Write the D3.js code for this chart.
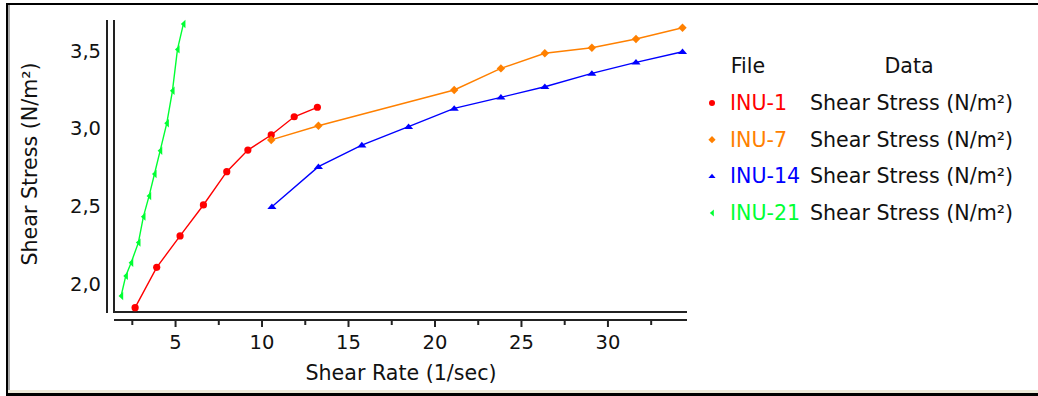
<!DOCTYPE html>
<html><head><meta charset="utf-8">
<script src="https://cdn.jsdelivr.net/npm/d3@7"></script>
<style>
html,body{margin:0;padding:0;background:#fff;}
text{font-family:"DejaVu Sans",sans-serif;fill:#111;}
</style></head>
<body>
<svg id="c" width="1038" height="396"></svg>
<script>
// ---- data ----
const seriesNames = ["INU-1", "INU-7", "INU-14", "INU-21"];
const dataLabel = "Shear Stress (N/m²)";
const inu1X = [2.69, 3.94, 5.29, 6.64, 7.99, 9.21, 10.56, 11.89, 13.23];
const inu1Y = [1.844, 2.103, 2.305, 2.504, 2.718, 2.857, 2.954, 3.071, 3.132];
const inu7X = [10.56, 13.29, 21.14, 23.84, 26.38, 29.10, 31.65, 34.34];
const inu7Y = [2.922, 3.013, 3.243, 3.382, 3.479, 3.515, 3.571, 3.643];
const inu14X = [10.60, 13.29, 15.80, 18.50, 21.14, 23.84, 26.38, 29.10, 31.65, 34.34];
const inu14Y = [2.493, 2.750, 2.889, 3.007, 3.125, 3.196, 3.264, 3.350, 3.421, 3.489];
const inu21X = [1.88, 2.15, 2.46, 2.88, 3.17, 3.50, 3.81, 4.14, 4.52, 4.85, 5.14, 5.48];
const inu21Y = [1.919, 2.048, 2.133, 2.262, 2.429, 2.562, 2.703, 2.853, 3.029, 3.238, 3.504, 3.667];
const xMajorTicks = [5, 10, 15, 20, 25, 30];
const xMinorTicks = [2.5, 7.5, 12.5, 17.5, 22.5, 27.5, 32.5];
const yTicks = [2.0, 2.5, 3.0, 3.5];
const xTitle = "Shear Rate (1/sec)";
const yTitle = "Shear Stress (N/m²)";

const colors = ["#ff0000", "#ff8000", "#0000ff", "#00ff33"];
const symbols = ["circle", "diamond", "triUp", "triLeft"];
const series = [
  {name: seriesNames[0], xs: inu1X, ys: inu1Y},
  {name: seriesNames[1], xs: inu7X, ys: inu7Y},
  {name: seriesNames[2], xs: inu14X, ys: inu14Y},
  {name: seriesNames[3], xs: inu21X, ys: inu21Y}
];

const svg = d3.select("#c");

// frame
svg.append("rect").attr("x",0).attr("y",0).attr("width",1038).attr("height",396).attr("fill","#fff");
svg.append("rect").attr("x",8).attr("y",5).attr("width",2).attr("height",387).attr("fill","#a8a8a8");
svg.append("rect").attr("x",8).attr("y",390).attr("width",1030).attr("height",3).attr("fill","#ece9d8");
svg.append("rect").attr("x",6).attr("y",3).attr("width",1032).attr("height",2).attr("fill","#000");
svg.append("rect").attr("x",6).attr("y",3).attr("width",2).attr("height",393).attr("fill","#000");
svg.append("rect").attr("x",6).attr("y",393).attr("width",1032).attr("height",3).attr("fill","#000");

const x = d3.scaleLinear().domain([1.47, 34.6]).range([114, 687]);
const y = d3.scaleLinear().domain([1.816, 3.693]).range([312, 20]);
const loc = d3.formatLocale({decimal: ",", thousands: ".", grouping: [3], currency: ["", ""]});
const fy = loc.format(".1f");

// axes lines (double)
const axisCol = "#222";
svg.append("line").attr("x1",107).attr("x2",107).attr("y1",20).attr("y2",313).attr("stroke",axisCol).attr("stroke-width",2);
svg.append("line").attr("x1",114).attr("x2",114).attr("y1",20).attr("y2",313).attr("stroke",axisCol).attr("stroke-width",2);
svg.append("line").attr("x1",113).attr("x2",687).attr("y1",312).attr("y2",312).attr("stroke",axisCol).attr("stroke-width",2);

// x axis with ticks
const gx = svg.append("g").attr("transform","translate(0,320)");
gx.call(d3.axisBottom(x).tickValues(xMajorTicks).tickSize(7).tickSizeOuter(0).tickPadding(8).tickFormat(d3.format("d")));
gx.select(".domain").attr("stroke",axisCol).attr("stroke-width",2).attr("d","M114,0H687");
gx.selectAll(".tick line").attr("stroke",axisCol).attr("stroke-width",2);
gx.selectAll(".tick text").attr("font-family","Liberation Sans, sans-serif").attr("font-size",19.5).attr("fill","#111").attr("y",15).attr("dy","0.71em");
const gxm = svg.append("g").attr("transform","translate(0,320)");
gxm.call(d3.axisBottom(x).tickValues(xMinorTicks).tickSize(5).tickFormat(""));
gxm.select(".domain").remove();
gxm.selectAll(".tick line").attr("stroke",axisCol).attr("stroke-width",2);

// y axis labels (no tick marks)
const gy = svg.append("g").attr("transform","translate(107,0)");
gy.call(d3.axisLeft(y).tickValues(yTicks).tickSize(0).tickPadding(6).tickFormat(fy));
gy.select(".domain").remove();
gy.selectAll(".tick text").attr("font-family","Liberation Sans, sans-serif").attr("font-size",19.5).attr("fill","#111").attr("dy","0.36em");

// titles
svg.append("text").attr("x",401).attr("y",380).attr("text-anchor","middle").attr("font-size",20.6).text(xTitle);
svg.append("text").attr("transform","translate(37,164) rotate(-90)").attr("text-anchor","middle").attr("font-size",20.6).text(yTitle);

// marker path generator
function markerPath(type, s) {
  switch (type) {
    case "circle": return d3.symbol(d3.symbolCircle, s*s*3.14).call ? d3.symbol().type(d3.symbolCircle).size(Math.PI*s*s)() : "";
    case "diamond": return `M0,${-s}L${s},0L0,${s}L${-s},0Z`;
    case "triUp": return `M0,${-s*0.7}L${s},${s*0.5}L${-s},${s*0.5}Z`;
    case "triLeft": return `M${-s*0.6},0L${s*0.5},${-s}L${s*0.5},${s}Z`;
  }
}

const line = d3.line().x(d => x(d[0])).y(d => y(d[1]));
series.forEach((s, i) => {
  const pts = s.xs.map((v, k) => [v, s.ys[k]]);
  svg.append("path").datum(pts).attr("d", line).attr("fill","none").attr("stroke",colors[i]).attr("stroke-width",1.4);
  const sz = [3.6, 4.2, 4.6, 4.2][i];
  svg.append("g").selectAll("path").data(pts).join("path")
    .attr("transform", d => `translate(${x(d[0])},${y(d[1])})`)
    .attr("d", markerPath(symbols[i], sz))
    .attr("fill", colors[i]);
});

// legend
svg.append("text").attr("x",748).attr("y",72.7).attr("text-anchor","middle").attr("font-size",20.6).text("File");
svg.append("text").attr("x",909).attr("y",72.7).attr("text-anchor","middle").attr("font-size",20.6).text("Data");
const legRows = [110, 146.7, 183.3, 220];
series.forEach((s, i) => {
  const by = legRows[i];
  const sz = [3, 3.6, 3.6, 3.6][i];
  svg.append("path").attr("transform",`translate(712,${by-7})`).attr("d", markerPath(symbols[i], sz)).attr("fill", colors[i]);
  svg.append("text").attr("x",730).attr("y",by).attr("font-size",20.6).style("fill",colors[i]).text(s.name);
  svg.append("text").attr("x",810).attr("y",by).attr("font-size",20.6).text(dataLabel);
});
</script>
</body></html>
